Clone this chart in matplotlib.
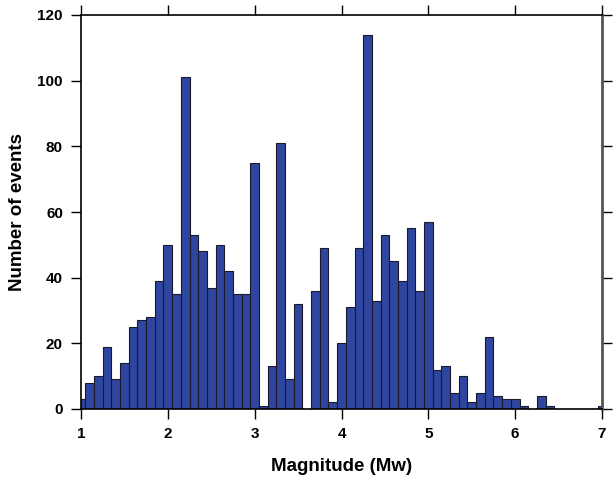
import numpy as np
import matplotlib.pyplot as plt

# histogram of event magnitudes, 0.1 bins centred on 1.0 ... 7.0
bin_centres = [round(1.0 + 0.1 * i, 1) for i in range(61)]
counts = [3, 8, 10, 19, 9, 14, 25, 27, 28, 39,
          50, 35, 101, 53, 48, 37, 50, 42, 35, 35,
          75, 1, 13, 81, 9, 32, 0, 36, 49, 2,
          20, 31, 49, 114, 33, 53, 45, 39, 55, 36,
          57, 12, 13, 5, 10, 2, 5, 22, 4, 3,
          3, 1, 0, 4, 1, 0, 0, 0, 0, 0,
          1]
x_ticks = [1, 2, 3, 4, 5, 6, 7]
y_ticks = [0, 20, 40, 60, 80, 100, 120]

plt.rcParams['font.family'] = ['Liberation Sans', 'DejaVu Sans']

fig = plt.figure(figsize=(6.14, 4.8), dpi=100)
ax = fig.add_axes([81 / 614, 1 - 409 / 480, 521 / 614, 394 / 480])

ax.bar(bin_centres, counts, width=0.1, align='center',
       color='#2e46a0', edgecolor='#1a1a2a', linewidth=0.8)

ax.set_xlim(1, 7)
ax.set_ylim(0, 120)
ax.set_xticks(x_ticks)
ax.set_yticks(y_ticks)
ax.tick_params(axis='both', direction='out', length=7, width=1,
               labelsize=11, top=True, right=True, pad=6)
for lbl in ax.get_xticklabels() + ax.get_yticklabels():
    lbl.set_fontweight('bold')
for s in ax.spines.values():
    s.set_linewidth(1.2)
ax.spines['right'].set_color('#555555')
ax.spines['right'].set_linewidth(2)

ax.set_xlabel('Magnitude (Mw)', fontsize=13.5, fontweight='bold', labelpad=12)
ax.set_ylabel('Number of events', fontsize=13.5, fontweight='bold', labelpad=8)

fig.savefig('out.png', dpi=100)
